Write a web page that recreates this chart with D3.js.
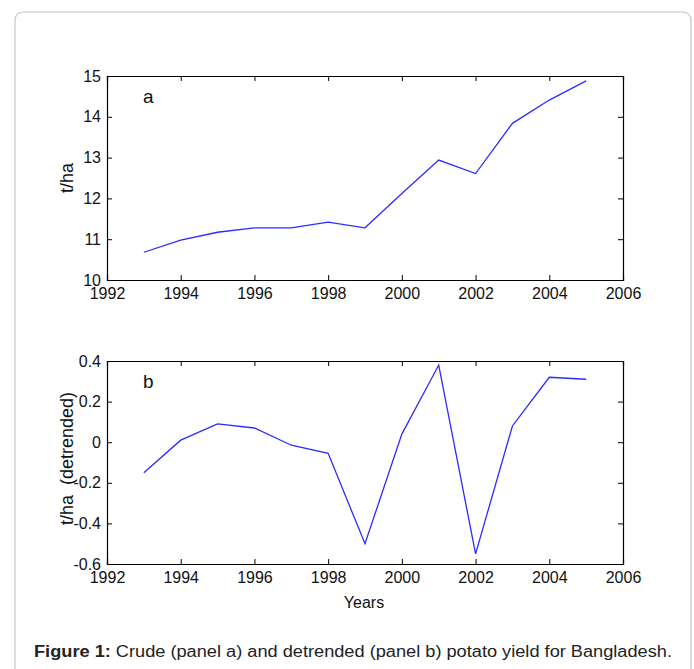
<!DOCTYPE html>
<html>
<head>
<meta charset="utf-8">
<script src="https://cdn.jsdelivr.net/npm/d3@7"></script>
<style>
  body { margin: 0; background: #fff; }
  svg { display: block; font-family: "Liberation Sans", Arial, sans-serif; }
</style>
</head>
<body>
<div id="chart"></div>
<script>
var years = [1993, 1994, 1995, 1996, 1997, 1998, 1999, 2000, 2001, 2002, 2003, 2004, 2005];
var crude = [10.68, 10.98, 11.17, 11.28, 11.28, 11.42, 11.28, 12.12, 12.94, 12.61, 13.84, 14.41, 14.88];
var detrended = [-0.15, 0.01, 0.09, 0.07, -0.015, -0.055, -0.50, 0.04, 0.38, -0.55, 0.08, 0.32, 0.31];
var xTicks = [1992, 1994, 1996, 1998, 2000, 2002, 2004, 2006];
var yTicksA = [10, 11, 12, 13, 14, 15];
var yTicksB = [-0.6, -0.4, -0.2, 0, 0.2, 0.4];

var width = 694, height = 669;
var svg = d3.select("#chart").append("svg").attr("width", width).attr("height", height);

// outer frame (open at the bottom)
svg.append("path")
    .attr("d", "M15,680 L15,21 Q15,12 24,12 L682,12 Q691,12 691,21 L691,680")
    .attr("fill", "none")
    .attr("stroke", "#c4c4c4")
    .attr("stroke-width", 1.2);

var left = 107, right = 623;
var x = d3.scaleLinear().domain([1992, 2006]).range([left, right]);

function panel(top, bottom, domain, yTicks, values, fmt, letter, ylabel, lblShift) {
    var y = d3.scaleLinear().domain(domain).range([bottom, top]);
    var g = svg.append("g");
    var tl = 5;
    g.append("g").attr("transform", "translate(0," + bottom + ")")
        .call(d3.axisBottom(x).tickValues(xTicks).tickSize(-tl).tickPadding(8).tickFormat(d3.format("d")));
    g.append("g").attr("transform", "translate(0," + top + ")")
        .call(d3.axisTop(x).tickValues(xTicks).tickSize(-tl).tickFormat(""));
    g.append("g").attr("transform", "translate(" + left + ",0)")
        .call(d3.axisLeft(y).tickValues(yTicks).tickSize(-tl).tickPadding(6).tickFormat(fmt));
    g.append("g").attr("transform", "translate(" + right + ",0)")
        .call(d3.axisRight(y).tickValues(yTicks).tickSize(-tl).tickFormat(""));
    g.selectAll(".domain").attr("stroke", "#000").attr("stroke-width", 1.2);
    g.selectAll(".tick line").attr("stroke", "#000");
    g.selectAll(".tick text").attr("font-size", 16).attr("fill", "#111")
        .attr("font-family", "Liberation Sans, Arial, sans-serif");

    var line = d3.line().x(function (d, i) { return x(years[i]); }).y(function (d) { return y(d); });
    g.append("path").datum(values)
        .attr("d", line)
        .attr("fill", "none")
        .attr("stroke", "#2b2bff")
        .attr("stroke-width", 1.3);

    g.append("text").attr("x", 143).attr("y", top + 26.5)
        .attr("font-size", 19).attr("fill", "#111").text(letter);

    g.append("text")
        .attr("transform", "translate(73," + ((top + bottom) / 2 + lblShift) + ") rotate(-90)")
        .attr("text-anchor", "middle")
        .attr("font-size", 18).attr("fill", "#111")
        .attr("xml:space", "preserve")
        .text(ylabel);
    return g;
}

panel(76, 280, [10, 15], yTicksA, crude, d3.format("d"), "a", "t/ha", 0);
panel(361, 564, [-0.6, 0.4], yTicksB, detrended,
    function (d) { return d === 0 ? "0" : d3.format(".1f")(d).replace("\u2212", "-"); },
    "b", "t/ha  (detrended)", -4);

svg.append("text").attr("x", 364).attr("y", 608)
    .attr("text-anchor", "middle").attr("font-size", 16).attr("fill", "#111").text("Years");

var cap = svg.append("text").attr("x", 34).attr("y", 657)
    .attr("font-size", 16).attr("fill", "#222")
    .attr("textLength", 638).attr("lengthAdjust", "spacingAndGlyphs");
cap.append("tspan").attr("font-weight", "bold").text("Figure 1:");
cap.append("tspan").text(" Crude (panel a) and detrended (panel b) potato yield for Bangladesh.");
</script>
</body>
</html>
